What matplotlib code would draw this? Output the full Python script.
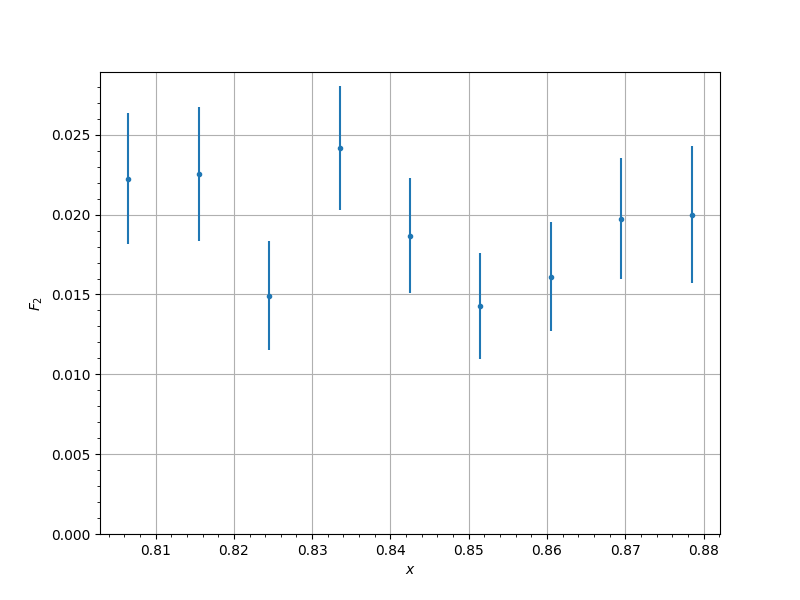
import matplotlib
matplotlib.use("Agg")
import matplotlib.pyplot as plt

x_vals = [0.8065, 0.8155, 0.8245, 0.8335, 0.8425, 0.8515, 0.8605, 0.8695, 0.8785]
f2_vals = [0.02224, 0.02255, 0.01492, 0.02418, 0.01867, 0.01429, 0.01611, 0.01974, 0.01999]
f2_err = [0.0041, 0.0042, 0.0034, 0.0039, 0.0036, 0.0033, 0.0034, 0.0038, 0.0043]

fig, ax = plt.subplots(figsize=(8, 6), dpi=100)
ax.errorbar(x_vals, f2_vals, yerr=f2_err, fmt='.', color='C0')
ax.set_ylim(bottom=0)
ax.minorticks_on()
ax.grid(which='major')
ax.set_xlabel('$x$')
ax.set_ylabel('$F_2$')

fig.savefig('out.png')
